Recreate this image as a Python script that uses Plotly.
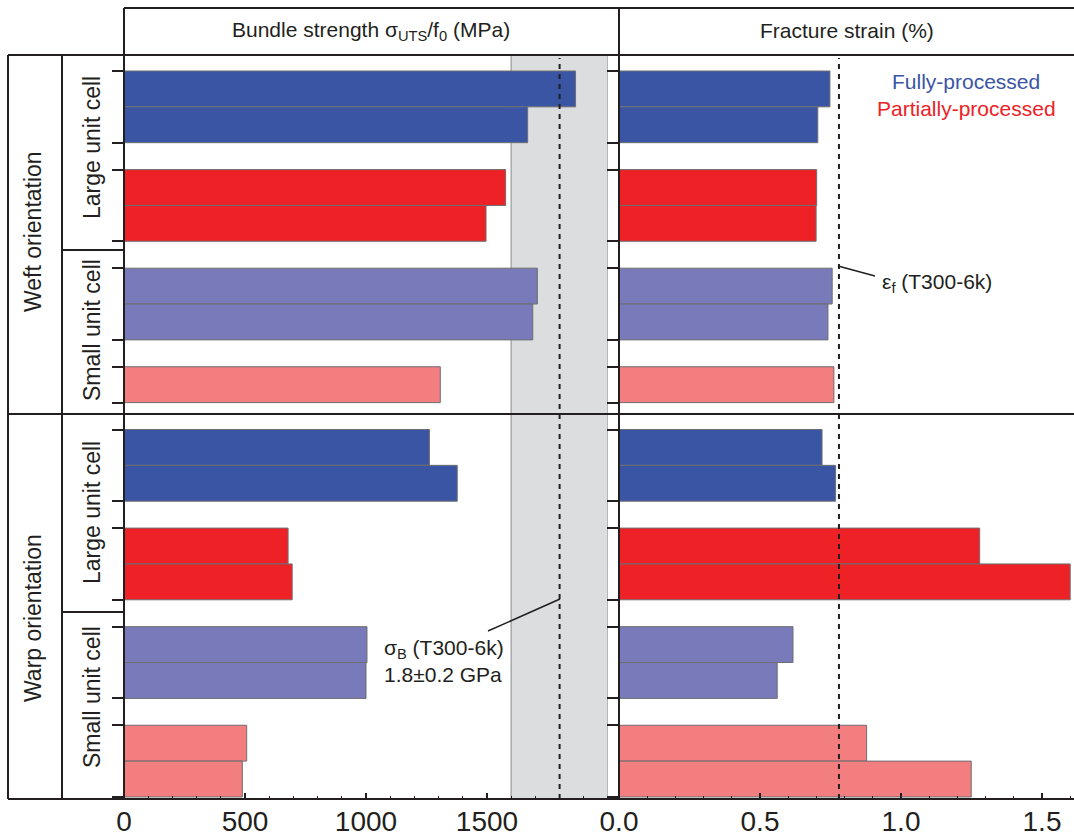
import plotly.graph_objects as go

W, H = 1074, 837
def fx(px):
    return px / W
def fy(py):
    return 1 - py / H

# ---------------- data ----------------
group_names = [
    "Weft / Large unit cell / Fully-processed",
    "Weft / Large unit cell / Partially-processed",
    "Weft / Small unit cell / Fully-processed",
    "Weft / Small unit cell / Partially-processed",
    "Warp / Large unit cell / Fully-processed",
    "Warp / Large unit cell / Partially-processed",
    "Warp / Small unit cell / Fully-processed",
    "Warp / Small unit cell / Partially-processed",
]
group_colors = ["#3A55A4", "#EE2226", "#787AB9", "#F37E80",
                "#3A55A4", "#EE2226", "#787AB9", "#F37E80"]
# bundle strength sigma_UTS/f0 (MPa)
strength = [[1866, 1668], [1577, 1496], [1708, 1689], [1307],
            [1262, 1377], [678, 695], [1004, 1000], [507, 489]]
# fracture strain (%)
strain = [[0.748, 0.705], [0.701, 0.699], [0.756, 0.741], [0.762],
          [0.720, 0.768], [1.279, 1.600], [0.617, 0.561], [0.878, 1.249]]

sigma_B = 1800          # MPa
sigma_B_err = 200       # MPa
eps_f = 0.78            # %

strength_ticks = [0, 500, 1000, 1500]
strength_ticktext = ["0", "500", "1000", "1500"]
strain_ticks = [0, 0.5, 1.0, 1.5]
strain_ticktext = ["0.0", "0.5", "1.0", "1.5"]

# ---------------- layout helpers ----------------
GAP = 0.75  # gap between groups, in bar heights
centers, edges = [], []
pos = 0.0
for vals in strength:
    n = len(vals)
    centers.append([pos + i + 0.5 for i in range(n)])
    edges += [pos, pos + n]
    pos += n + GAP

UNIT = 35.85          # px per bar
Y0PX = 71             # px of first bar top
TOP, BOT = 55, 799    # plot area in px
y_range = [(BOT - Y0PX) / UNIT, (TOP - Y0PX) / UNIT]

INK = "#231F20"
FONT = "Liberation Sans, Arial, sans-serif"

fig = go.Figure()
for name, col, c, s, e in zip(group_names, group_colors, centers, strength, strain):
    fig.add_trace(go.Bar(orientation="h", x=s, y=c, width=1, name=name,
                         marker=dict(color=col, line=dict(color="#6D6E71", width=1)),
                         xaxis="x", yaxis="y", showlegend=False))
    fig.add_trace(go.Bar(orientation="h", x=e, y=c, width=1, name=name,
                         marker=dict(color=col, line=dict(color="#6D6E71", width=1)),
                         xaxis="x2", yaxis="y2", showlegend=False))

xcommon = dict(ticks="inside", ticklen=6, tickwidth=1.5, tickcolor=INK,
               showgrid=False, zeroline=False, showline=False, automargin=False,
               tickfont=dict(size=28, color=INK, family=FONT),
               ticklabelstandoff=3)
ycommon = dict(range=y_range, domain=[fy(BOT), fy(TOP)], tickvals=edges,
               ticks="outside", ticklen=11, tickwidth=1.5, tickcolor=INK,
               showticklabels=False, showgrid=False, zeroline=False, showline=False,
               automargin=False)

fig.update_layout(
    template="none",
    width=W, height=H, margin=dict(l=0, r=0, t=0, b=0, pad=0, autoexpand=False),
    paper_bgcolor="white", plot_bgcolor="white",
    barmode="overlay", font=dict(family=FONT, color=INK),
    xaxis=dict(domain=[fx(124), fx(608)], range=[0, 2000], anchor="y",
               tickvals=strength_ticks, ticktext=strength_ticktext,
               minor=dict(dtick=100, tick0=0, ticks="inside", ticklen=3,
                          tickwidth=1.2, tickcolor=INK), **xcommon),
    xaxis2=dict(domain=[fx(619), 1.0], range=[0, (W - 619) / 282.0], anchor="y2",
                tickvals=strain_ticks, ticktext=strain_ticktext,
                minor=dict(dtick=0.1, tick0=0, ticks="inside", ticklen=3,
                           tickwidth=1.2, tickcolor=INK), **xcommon),
    yaxis=dict(anchor="x", **ycommon),
    yaxis2=dict(anchor="x2", matches="y", **ycommon),
)

shapes = []
# grey band sigma_B +/- error
shapes.append(dict(type="rect", xref="x", yref="paper",
                   x0=sigma_B - sigma_B_err, x1=sigma_B + sigma_B_err,
                   y0=fy(BOT), y1=fy(TOP), fillcolor="#DCDDDE",
                   line=dict(color="#A7A9AC", width=1.5), layer="below"))
# dashed reference lines
shapes.append(dict(type="line", xref="x", yref="paper", x0=sigma_B, x1=sigma_B,
                   y0=fy(BOT), y1=fy(TOP + 3), line=dict(color=INK, width=2, dash="5px,5px")))
shapes.append(dict(type="line", xref="x2", yref="paper", x0=eps_f, x1=eps_f,
                   y0=fy(BOT), y1=fy(TOP + 3), line=dict(color=INK, width=2, dash="5px,5px")))
# frame lines
frame = [((124, 8), (1074, 8)), ((8, 55), (1074, 55)), ((124, 8), (124, 799)),
         ((619, 8), (619, 799)), ((8, 55), (8, 799)), ((62, 55), (62, 799)),
         ((8, 414), (1074, 414)), ((62, 250), (124, 250)), ((62, 612), (124, 612)),
         ((8, 799), (1074, 799))]
for (a, b) in frame:
    shapes.append(dict(type="line", xref="paper", yref="paper",
                       x0=fx(a[0]), y0=fy(a[1]), x1=fx(b[0]), y1=fy(b[1]),
                       line=dict(color=INK, width=2)))
# leader lines
for (a, b) in [((560, 599), (488, 631)), ((838, 266), (875, 276))]:
    shapes.append(dict(type="line", xref="paper", yref="paper",
                       x0=fx(a[0]), y0=fy(a[1]), x1=fx(b[0]), y1=fy(b[1]),
                       line=dict(color=INK, width=1.5)))
fig.update_layout(shapes=shapes)

ann = []
def text(x, y, t, size, color=INK, angle=0, xanchor="center"):
    ann.append(dict(x=fx(x), y=fy(y), xref="paper", yref="paper", text=t,
                    showarrow=False, textangle=angle, xanchor=xanchor, yanchor="middle",
                    font=dict(size=size, color=color, family=FONT)))

text(371, 31, "Bundle strength σ<sub>UTS</sub>/f<sub>0</sub> (MPa)", 21)
text(847, 31, "Fracture strain (%)", 21)
text(966, 82, "Fully-processed", 21, color="#3A55A4")
text(966, 109, "Partially-processed", 21, color="#EE2226")
text(382, 649, "σ<sub>B</sub> (T300-6k)", 21, xanchor="left")
text(382, 674, "1.8±0.2 GPa", 21, xanchor="left")
text(880, 283, "ε<sub>f</sub> (T300-6k)", 21, xanchor="left")
text(33, 232, "Weft orientation", 23, angle=-90)
text(33, 618, "Warp orientation", 23, angle=-90)
text(92, 148, "Large unit cell", 23, angle=-90)
text(92, 330, "Small unit cell", 23, angle=-90)
text(92, 513, "Large unit cell", 23, angle=-90)
text(92, 697, "Small unit cell", 23, angle=-90)
fig.update_layout(annotations=ann)

fig.write_html("out.html")
